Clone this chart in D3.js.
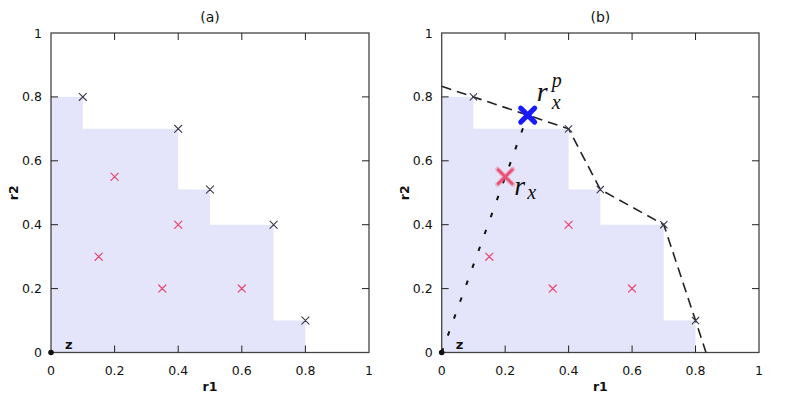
<!DOCTYPE html>
<html>
<head>
<meta charset="utf-8">
<script src="https://cdn.jsdelivr.net/npm/d3@7"></script>
<style>
  body { margin: 0; background: #fff; }
  svg { font-family: "DejaVu Sans", sans-serif; }
  .frame { fill: none; stroke: #444; stroke-width: 1.3; }
  .tick-label { font-size: 12.5px; fill: #111; }
  .axis-title { font-size: 12.5px; font-weight: bold; fill: #111; }
  .math { font-family: "Liberation Serif", serif; font-style: italic; fill: #111; }
</style>
</head>
<body>
<div class="chart"></div>
<script>
// pareto front points (black)
var frontR1 = [0.1, 0.4, 0.5, 0.7, 0.8];
var frontR2 = [0.8, 0.7, 0.51, 0.4, 0.1];
// dominated points (red)
var domR1 = [0.2, 0.15, 0.4, 0.35, 0.6];
var domR2 = [0.55, 0.3, 0.4, 0.2, 0.2];
// hull line in (b), with its extrapolated ends on the axes
var hullR1 = [0, 0.1, 0.4, 0.5, 0.7, 0.8, 0.833];
var hullR2 = [0.833, 0.8, 0.7, 0.51, 0.4, 0.1, 0];
// r_x and its projection r_x^p
var rx = [0.2, 0.55];
var rxp = [0.271, 0.743];
var tickVals = [0, 0.2, 0.4, 0.6, 0.8, 1];
var titles = ["(a)", "(b)"];

var width = 791, height = 409;
var svg = d3.select(".chart").append("svg")
    .attr("width", width).attr("height", height);

var front = frontR1.map(function(d, i) { return {r1: d, r2: frontR2[i]}; });
var dom = domR1.map(function(d, i) { return {r1: d, r2: domR2[i]}; });
var hull = hullR1.map(function(d, i) { return {r1: d, r2: hullR2[i]}; });

function cross(g, x, y, s, color, sw, op) {
  g.append("path")
    .attr("d", "M" + (x - s) + "," + (y - s) + "L" + (x + s) + "," + (y + s) +
               "M" + (x - s) + "," + (y + s) + "L" + (x + s) + "," + (y - s))
    .attr("stroke", color).attr("stroke-width", sw)
    .attr("stroke-linecap", "round")
    .attr("fill", "none").attr("opacity", op || 1);
}

function drawPanel(left, right, idx) {
  var top = 33, bottom = 352.5;
  var x = d3.scaleLinear().domain([0, 1]).range([left, right]);
  var y = d3.scaleLinear().domain([0, 1]).range([bottom, top]);
  var g = svg.append("g");

  // dominated region (staircase)
  var stairs = [{r1: 0, r2: 0}, {r1: 0, r2: front[0].r2}];
  front.forEach(function(p, i) {
    stairs.push({r1: p.r1, r2: p.r2});
    var next = i + 1 < front.length ? front[i + 1].r2 : 0;
    stairs.push({r1: p.r1, r2: next});
  });
  g.append("path")
    .attr("d", d3.line().x(function(d) { return x(d.r1); }).y(function(d) { return y(d.r2); })(stairs) + "Z")
    .attr("fill", "#e4e4fa");

  // frame and ticks
  g.append("rect").attr("class", "frame")
    .attr("x", x(0)).attr("y", y(1))
    .attr("width", x(1) - x(0)).attr("height", y(0) - y(1));
  tickVals.slice(1, -1).forEach(function(t) {
    g.append("line").attr("x1", x(t)).attr("x2", x(t)).attr("y1", y(0)).attr("y2", y(0) - 7).attr("stroke", "#222");
    g.append("line").attr("x1", x(t)).attr("x2", x(t)).attr("y1", y(1)).attr("y2", y(1) + 7).attr("stroke", "#222");
    g.append("line").attr("y1", y(t)).attr("y2", y(t)).attr("x1", x(0)).attr("x2", x(0) + 7).attr("stroke", "#222");
    g.append("line").attr("y1", y(t)).attr("y2", y(t)).attr("x1", x(1)).attr("x2", x(1) - 7).attr("stroke", "#222");
  });
  var fmt = function(t) { return t === 0 ? "0" : t === 1 ? "1" : d3.format(".1f")(t); };
  tickVals.forEach(function(t) {
    g.append("text").attr("class", "tick-label")
      .attr("x", x(t)).attr("y", y(0) + 22).attr("text-anchor", "middle").text(fmt(t));
    g.append("text").attr("class", "tick-label")
      .attr("x", x(0) - 9).attr("y", y(t) + 4.5).attr("text-anchor", "end").text(fmt(t));
  });
  g.append("text").attr("class", "axis-title")
    .attr("x", (x(0) + x(1)) / 2).attr("y", y(0) + 38).attr("text-anchor", "middle").text("r1");
  g.append("text").attr("class", "axis-title")
    .attr("transform", "translate(" + (x(0) - 33) + "," + ((y(0) + y(1)) / 2) + ") rotate(-90)")
    .attr("text-anchor", "middle").text("r2");
  g.append("text").attr("x", (x(0) + x(1)) / 2).attr("y", 22)
    .attr("text-anchor", "middle").attr("font-size", "14px").attr("fill", "#111").text(titles[idx]);

  // origin z
  g.append("circle").attr("cx", x(0)).attr("cy", y(0)).attr("r", 2.8).attr("fill", "#111");
  g.append("text").attr("x", x(0) + 14).attr("y", y(0) - 4)
    .attr("font-size", "13px").attr("font-weight", "bold").attr("fill", "#111").text("z");

  if (idx === 1) {
    g.append("path")
      .attr("d", d3.line().x(function(d) { return x(d.r1); }).y(function(d) { return y(d.r2); })(hull))
      .attr("fill", "none").attr("stroke", "#222").attr("stroke-width", 1.6)
      .attr("stroke-dasharray", "10,6");
    g.append("line")
      .attr("x1", x(0)).attr("y1", y(0)).attr("x2", x(rxp[0])).attr("y2", y(rxp[1]))
      .attr("stroke", "#111").attr("stroke-width", 2).attr("stroke-dasharray", "4.5,13.5");
  }

  var ms = idx === 1 ? 3.3 : 3.6;
  front.forEach(function(p) { cross(g, x(p.r1), y(p.r2), ms, "#3a3a4a", 1.1); });
  dom.forEach(function(p, i) {
    if (idx === 1 && i === 0) return;
    cross(g, x(p.r1), y(p.r2), 3.6, "#e8456e", 1.2);
  });

  if (idx === 1) {
    cross(g, x(rx[0]), y(rx[1]), 7.5, "#f07a90", 5, 0.45);
    cross(g, x(rx[0]), y(rx[1]), 7, "#e8456e", 2.8, 0.9);
    cross(g, x(rxp[0]), y(rxp[1]), 7, "#1a1aff", 5);

    var px = x(rxp[0]), py = y(rxp[1]);
    g.append("text").attr("class", "math").attr("x", px + 9).attr("y", py - 14)
      .attr("font-size", "28px").text("r");
    g.append("text").attr("class", "math").attr("x", px + 24).attr("y", py - 28)
      .attr("font-size", "20px").text("p");
    g.append("text").attr("class", "math").attr("x", px + 24).attr("y", py - 6)
      .attr("font-size", "20px").text("x");

    var qx = x(rx[0]), qy = y(rx[1]);
    g.append("text").attr("class", "math").attr("x", qx + 9).attr("y", qy + 18)
      .attr("font-size", "28px").text("r");
    g.append("text").attr("class", "math").attr("x", qx + 22).attr("y", qy + 22)
      .attr("font-size", "20px").text("x");
  }
}

drawPanel(51, 369, 0);
drawPanel(441.7, 759, 1);
</script>
</body>
</html>
